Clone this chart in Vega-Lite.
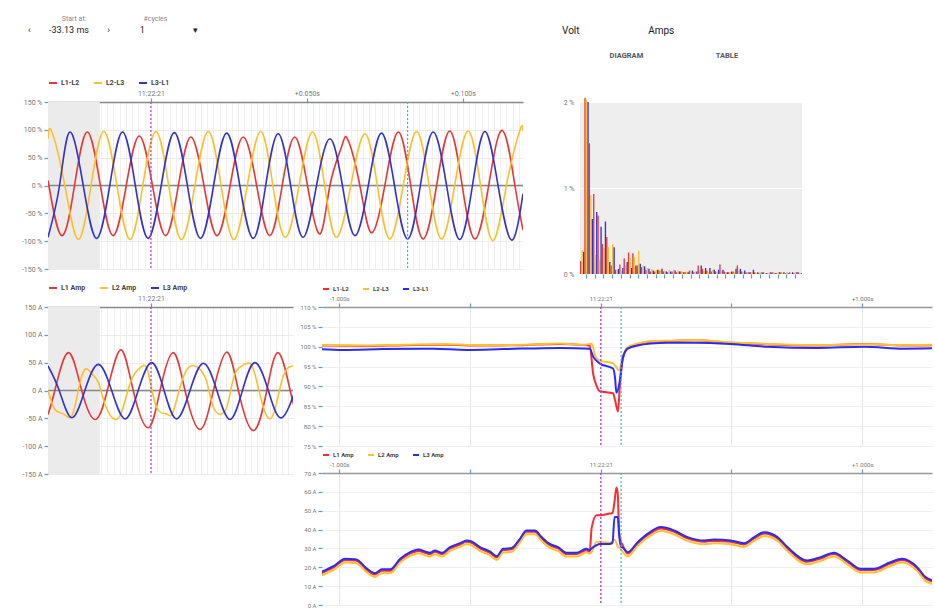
{
  "$schema": "https://vega.github.io/schema/vega-lite/v6.json",
  "background": "white",
  "padding": {"left": 21, "top": 15, "right": 5, "bottom": 5},
  "spacing": 4,
  "resolve": {"scale": {"color": "independent"}},
  "datasets": {
    "vw": [
      {"s":"L1-L2","t":-33,"v":9},{"s":"L1-L2","t":-28.6,"v":-90},{"s":"L1-L2","t":-24.5,"v":0},{"s":"L1-L2","t":-20.4,"v":96},{"s":"L1-L2","t":-16.2,"v":0},{"s":"L1-L2","t":-12.1,"v":-90},{"s":"L1-L2","t":-7.9,"v":0},{"s":"L1-L2","t":-3.75,"v":89},{"s":"L1-L2","t":0.5,"v":0},{"s":"L1-L2","t":4.7,"v":-90},{"s":"L1-L2","t":8.8,"v":0},{"s":"L1-L2","t":12.8,"v":87},{"s":"L1-L2","t":17,"v":0},{"s":"L1-L2","t":21.2,"v":-90},{"s":"L1-L2","t":25.4,"v":0},{"s":"L1-L2","t":29.6,"v":87},{"s":"L1-L2","t":33.9,"v":0},{"s":"L1-L2","t":38.1,"v":-90},{"s":"L1-L2","t":42.1,"v":0},{"s":"L1-L2","t":46.1,"v":87},{"s":"L1-L2","t":50.2,"v":0},{"s":"L1-L2","t":54.2,"v":-87},{"s":"L1-L2","t":57.4,"v":0},{"s":"L1-L2","t":61.1,"v":69},{"s":"L1-L2","t":63.1,"v":83},{"s":"L1-L2","t":67,"v":0},{"s":"L1-L2","t":70.7,"v":-85},{"s":"L1-L2","t":75,"v":0},{"s":"L1-L2","t":79.3,"v":96},{"s":"L1-L2","t":83.3,"v":0},{"s":"L1-L2","t":87.3,"v":-96},{"s":"L1-L2","t":91.6,"v":0},{"s":"L1-L2","t":95.8,"v":98},{"s":"L1-L2","t":99.8,"v":0},{"s":"L1-L2","t":103.9,"v":-96},{"s":"L1-L2","t":108.3,"v":0},{"s":"L1-L2","t":112.7,"v":99},{"s":"L1-L2","t":116.7,"v":0},{"s":"L1-L2","t":119.3,"v":-80},
      {"s":"L2-L3","t":-33,"v":84},{"s":"L2-L3","t":-31.8,"v":97},{"s":"L2-L3","t":-27.6,"v":0},{"s":"L2-L3","t":-23.3,"v":-97},{"s":"L2-L3","t":-19.2,"v":0},{"s":"L2-L3","t":-15.1,"v":97},{"s":"L2-L3","t":-10.9,"v":0},{"s":"L2-L3","t":-6.7,"v":-97},{"s":"L2-L3","t":-2.6,"v":0},{"s":"L2-L3","t":1.6,"v":97},{"s":"L2-L3","t":5.7,"v":0},{"s":"L2-L3","t":9.8,"v":-97},{"s":"L2-L3","t":14.1,"v":0},{"s":"L2-L3","t":18.4,"v":97},{"s":"L2-L3","t":22.5,"v":0},{"s":"L2-L3","t":26.6,"v":-97},{"s":"L2-L3","t":30.9,"v":0},{"s":"L2-L3","t":35.2,"v":97},{"s":"L2-L3","t":39.1,"v":0},{"s":"L2-L3","t":43.1,"v":-93},{"s":"L2-L3","t":47.5,"v":0},{"s":"L2-L3","t":51.8,"v":96},{"s":"L2-L3","t":55.7,"v":0},{"s":"L2-L3","t":59.5,"v":-93},{"s":"L2-L3","t":64.1,"v":0},{"s":"L2-L3","t":68.6,"v":93},{"s":"L2-L3","t":72.6,"v":0},{"s":"L2-L3","t":76.6,"v":-96},{"s":"L2-L3","t":80.9,"v":0},{"s":"L2-L3","t":85.2,"v":97},{"s":"L2-L3","t":89.2,"v":0},{"s":"L2-L3","t":93.2,"v":-96},{"s":"L2-L3","t":97.4,"v":0},{"s":"L2-L3","t":101.7,"v":98},{"s":"L2-L3","t":105.7,"v":0},{"s":"L2-L3","t":109.7,"v":-99},{"s":"L2-L3","t":114,"v":0},{"s":"L2-L3","t":118.3,"v":99},{"s":"L2-L3","t":119.3,"v":98},
      {"s":"L3-L1","t":-33,"v":-93},{"s":"L3-L1","t":-29.3,"v":0},{"s":"L3-L1","t":-26,"v":96},{"s":"L3-L1","t":-21.7,"v":0},{"s":"L3-L1","t":-17.4,"v":-95},{"s":"L3-L1","t":-13.2,"v":0},{"s":"L3-L1","t":-9.1,"v":96},{"s":"L3-L1","t":-5,"v":0},{"s":"L3-L1","t":-0.9,"v":-95},{"s":"L3-L1","t":3.3,"v":0},{"s":"L3-L1","t":7.5,"v":95},{"s":"L3-L1","t":11.7,"v":0},{"s":"L3-L1","t":15.9,"v":-95},{"s":"L3-L1","t":20.1,"v":0},{"s":"L3-L1","t":24.3,"v":94},{"s":"L3-L1","t":28.5,"v":0},{"s":"L3-L1","t":32.8,"v":-95},{"s":"L3-L1","t":36.8,"v":0},{"s":"L3-L1","t":40.8,"v":93},{"s":"L3-L1","t":44.8,"v":0},{"s":"L3-L1","t":48.8,"v":-93},{"s":"L3-L1","t":53.1,"v":0},{"s":"L3-L1","t":57.4,"v":84},{"s":"L3-L1","t":61.4,"v":0},{"s":"L3-L1","t":65.4,"v":-90},{"s":"L3-L1","t":69.7,"v":0},{"s":"L3-L1","t":73.9,"v":94},{"s":"L3-L1","t":78.1,"v":0},{"s":"L3-L1","t":82.3,"v":-96},{"s":"L3-L1","t":86.4,"v":0},{"s":"L3-L1","t":90.5,"v":96},{"s":"L3-L1","t":94.8,"v":0},{"s":"L3-L1","t":99,"v":-97},{"s":"L3-L1","t":103.1,"v":0},{"s":"L3-L1","t":107.1,"v":97},{"s":"L3-L1","t":111.3,"v":0},{"s":"L3-L1","t":115.6,"v":-98},{"s":"L3-L1","t":119.3,"v":-15}
    ],
    "cw": [
      {"s":"L1 Amp","t":-33,"v":-43},{"s":"L1 Amp","t":-30.8,"v":0},{"s":"L1 Amp","t":-26.5,"v":68},{"s":"L1 Amp","t":-22.2,"v":0},{"s":"L1 Amp","t":-17.9,"v":-52},{"s":"L1 Amp","t":-14,"v":0},{"s":"L1 Amp","t":-9.7,"v":73},{"s":"L1 Amp","t":-5.7,"v":0},{"s":"L1 Amp","t":-0.9,"v":-67},{"s":"L1 Amp","t":2.9,"v":0},{"s":"L1 Amp","t":7.1,"v":68},{"s":"L1 Amp","t":10.9,"v":0},{"s":"L1 Amp","t":15.7,"v":-70},{"s":"L1 Amp","t":20,"v":0},{"s":"L1 Amp","t":24.3,"v":69},{"s":"L1 Amp","t":28,"v":0},{"s":"L1 Amp","t":32.8,"v":-72},{"s":"L1 Amp","t":37.1,"v":0},{"s":"L1 Amp","t":40.8,"v":68},{"s":"L1 Amp","t":44.6,"v":0},{"s":"L1 Amp","t":47.1,"v":-55},
      {"s":"L2 Amp","t":-33,"v":0},{"s":"L2 Amp","t":-30.8,"v":-34},{"s":"L2 Amp","t":-28.1,"v":-42},{"s":"L2 Amp","t":-25.4,"v":-46},{"s":"L2 Amp","t":-23.3,"v":0},{"s":"L2 Amp","t":-21.2,"v":38},{"s":"L2 Amp","t":-19,"v":30},{"s":"L2 Amp","t":-16.9,"v":15},{"s":"L2 Amp","t":-14.7,"v":-25},{"s":"L2 Amp","t":-11.5,"v":-52},{"s":"L2 Amp","t":-8.9,"v":-30},{"s":"L2 Amp","t":-6.2,"v":20},{"s":"L2 Amp","t":-3,"v":43},{"s":"L2 Amp","t":-0.9,"v":32},{"s":"L2 Amp","t":1.8,"v":-30},{"s":"L2 Amp","t":5,"v":-42},{"s":"L2 Amp","t":7.1,"v":-38},{"s":"L2 Amp","t":10.4,"v":25},{"s":"L2 Amp","t":13.4,"v":45},{"s":"L2 Amp","t":15.7,"v":38},{"s":"L2 Amp","t":17.9,"v":15},{"s":"L2 Amp","t":20,"v":-30},{"s":"L2 Amp","t":22.7,"v":-42},{"s":"L2 Amp","t":24.8,"v":-20},{"s":"L2 Amp","t":26.9,"v":30},{"s":"L2 Amp","t":30.1,"v":47},{"s":"L2 Amp","t":32.8,"v":38},{"s":"L2 Amp","t":36,"v":-30},{"s":"L2 Amp","t":39.2,"v":-43},{"s":"L2 Amp","t":42.4,"v":26},{"s":"L2 Amp","t":45.6,"v":44},{"s":"L2 Amp","t":47.2,"v":47},
      {"s":"L3 Amp","t":-33,"v":44},{"s":"L3 Amp","t":-29.4,"v":0},{"s":"L3 Amp","t":-25.4,"v":-49},{"s":"L3 Amp","t":-21.2,"v":0},{"s":"L3 Amp","t":-16.9,"v":47},{"s":"L3 Amp","t":-12.6,"v":0},{"s":"L3 Amp","t":-8.3,"v":-51},{"s":"L3 Amp","t":-4.1,"v":0},{"s":"L3 Amp","t":0.2,"v":50},{"s":"L3 Amp","t":4.2,"v":0},{"s":"L3 Amp","t":8.2,"v":-51},{"s":"L3 Amp","t":12.5,"v":0},{"s":"L3 Amp","t":16.8,"v":49},{"s":"L3 Amp","t":21.1,"v":0},{"s":"L3 Amp","t":25.3,"v":-52},{"s":"L3 Amp","t":29.3,"v":0},{"s":"L3 Amp","t":33.3,"v":50},{"s":"L3 Amp","t":37.6,"v":0},{"s":"L3 Amp","t":41.9,"v":-49},{"s":"L3 Amp","t":46.2,"v":0},{"s":"L3 Amp","t":47.2,"v":8}
    ],
    "harm": [
      {"h":1,"L1":0.15,"L2":0.28,"L3":0.26},{"h":2,"L1":2.05,"L2":2.03,"L3":2.0},{"h":3,"L1":1.52,"L2":0.92,"L3":0.64},{"h":4,"L1":0.93,"L2":0.22,"L3":0.72},{"h":5,"L1":0.68,"L2":0.16,"L3":0.55},{"h":6,"L1":0.35,"L2":0.3,"L3":0.61},{"h":7,"L1":0.43,"L2":0.31,"L3":0.14},{"h":8,"L1":0.1,"L2":0.35,"L3":0.31},{"h":9,"L1":0.05,"L2":0.05,"L3":0.06},{"h":10,"L1":0.11,"L2":0.04,"L3":0.07},
      {"h":11,"L1":0.18,"L2":0.1,"L3":0.14},{"h":12,"L1":0.25,"L2":0.19,"L3":0.07},{"h":13,"L1":0.24,"L2":0.2,"L3":0.1},{"h":14,"L1":0.1,"L2":0.27,"L3":0.12},{"h":15,"L1":0.08,"L2":0.1,"L3":0.09},{"h":16,"L1":0.05,"L2":0.07,"L3":0.06},{"h":17,"L1":0.03,"L2":0.06,"L3":0.04},{"h":18,"L1":0.03,"L2":0.05,"L3":0.05},{"h":19,"L1":0.04,"L2":0.05,"L3":0.06},{"h":20,"L1":0.03,"L2":0.04,"L3":0.03},
      {"h":21,"L1":0.02,"L2":0.05,"L3":0.03},{"h":22,"L1":0.03,"L2":0.05,"L3":0.04},{"h":23,"L1":0.02,"L2":0.04,"L3":0.03},{"h":24,"L1":0.03,"L2":0.03,"L3":0.02},{"h":25,"L1":0.02,"L2":0.03,"L3":0.02},{"h":26,"L1":0.04,"L2":0.03,"L3":0.04},{"h":27,"L1":0.02,"L2":0.03,"L3":0.03},{"h":28,"L1":0.1,"L2":0.05,"L3":0.1},{"h":29,"L1":0.06,"L2":0.03,"L3":0.07},{"h":30,"L1":0.04,"L2":0.02,"L3":0.07},
      {"h":31,"L1":0.03,"L2":0.05,"L3":0.05},{"h":32,"L1":0.03,"L2":0.02,"L3":0.05},{"h":33,"L1":0.11,"L2":0.03,"L3":0.05},{"h":34,"L1":0.03,"L2":0.02,"L3":0.02},{"h":35,"L1":0.02,"L2":0.02,"L3":0.03},{"h":36,"L1":0.03,"L2":0.02,"L3":0.06},{"h":37,"L1":0.1,"L2":0.04,"L3":0.06},{"h":38,"L1":0.03,"L2":0.02,"L3":0.04},{"h":39,"L1":0.02,"L2":0.02,"L3":0.02},{"h":40,"L1":0.02,"L2":0.02,"L3":0.05},
      {"h":41,"L1":0.02,"L2":0.01,"L3":0.02},{"h":42,"L1":0.01,"L2":0.02,"L3":0.02},{"h":43,"L1":0.02,"L2":0.01,"L3":0.01},{"h":44,"L1":0.01,"L2":0.02,"L3":0.02},{"h":45,"L1":0.02,"L2":0.02,"L3":0.01},{"h":46,"L1":0.01,"L2":0.02,"L3":0.02},{"h":47,"L1":0.02,"L2":0.01,"L3":0.02},{"h":48,"L1":0.01,"L2":0.02,"L3":0.01},{"h":49,"L1":0.02,"L2":0.01,"L3":0.02},{"h":50,"L1":0.01,"L2":0.02,"L3":0.02},{"h":51,"L1":0.02,"L2":0.01,"L3":0.01}
    ],
    "rv": [
      {"s":"L1-L2","t":-1.07,"v":100.3},{"s":"L1-L2","t":-0.9,"v":100.2},{"s":"L1-L2","t":-0.75,"v":100.4},{"s":"L1-L2","t":-0.6,"v":100.5},{"s":"L1-L2","t":-0.45,"v":100.3},{"s":"L1-L2","t":-0.3,"v":100.4},{"s":"L1-L2","t":-0.156,"v":100.7},{"s":"L1-L2","t":-0.06,"v":100.4},{"s":"L1-L2","t":-0.042,"v":100.3},{"s":"L1-L2","t":-0.029,"v":93.2},{"s":"L1-L2","t":-0.015,"v":90},{"s":"L1-L2","t":-0.004,"v":88.8},{"s":"L1-L2","t":0.047,"v":88.3},{"s":"L1-L2","t":0.055,"v":86.5},{"s":"L1-L2","t":0.066,"v":83.7},{"s":"L1-L2","t":0.073,"v":90},{"s":"L1-L2","t":0.084,"v":96.7},{"s":"L1-L2","t":0.103,"v":99.7},{"s":"L1-L2","t":0.141,"v":100.6},{"s":"L1-L2","t":0.191,"v":101.3},{"s":"L1-L2","t":0.256,"v":101.4},{"s":"L1-L2","t":0.359,"v":101.6},{"s":"L1-L2","t":0.496,"v":101.0},{"s":"L1-L2","t":0.637,"v":100.6},{"s":"L1-L2","t":0.828,"v":100.3},{"s":"L1-L2","t":1.008,"v":100.7},{"s":"L1-L2","t":1.16,"v":100.3},{"s":"L1-L2","t":1.27,"v":100.4},
      {"s":"L2-L3","t":-1.07,"v":100.4},{"s":"L2-L3","t":-0.9,"v":100.3},{"s":"L2-L3","t":-0.75,"v":100.5},{"s":"L2-L3","t":-0.6,"v":100.6},{"s":"L2-L3","t":-0.45,"v":100.4},{"s":"L2-L3","t":-0.3,"v":100.5},{"s":"L2-L3","t":-0.156,"v":100.8},{"s":"L2-L3","t":-0.06,"v":100.5},{"s":"L2-L3","t":-0.035,"v":100.8},{"s":"L2-L3","t":-0.02,"v":97.5},{"s":"L2-L3","t":-0.004,"v":96.5},{"s":"L2-L3","t":0.047,"v":95.8},{"s":"L2-L3","t":0.06,"v":94.8},{"s":"L2-L3","t":0.07,"v":94.0},{"s":"L2-L3","t":0.084,"v":97.5},{"s":"L2-L3","t":0.103,"v":99.9},{"s":"L2-L3","t":0.141,"v":100.8},{"s":"L2-L3","t":0.191,"v":101.4},{"s":"L2-L3","t":0.256,"v":101.5},{"s":"L2-L3","t":0.359,"v":101.7},{"s":"L2-L3","t":0.496,"v":101.1},{"s":"L2-L3","t":0.637,"v":100.7},{"s":"L2-L3","t":0.828,"v":100.4},{"s":"L2-L3","t":1.008,"v":100.6},{"s":"L2-L3","t":1.16,"v":100.4},{"s":"L2-L3","t":1.27,"v":100.5},
      {"s":"L3-L1","t":-1.07,"v":99.4},{"s":"L3-L1","t":-0.985,"v":99.2},{"s":"L3-L1","t":-0.832,"v":99.4},{"s":"L3-L1","t":-0.641,"v":99.5},{"s":"L3-L1","t":-0.513,"v":99.2},{"s":"L3-L1","t":-0.374,"v":99.4},{"s":"L3-L1","t":-0.156,"v":99.7},{"s":"L3-L1","t":-0.042,"v":99.5},{"s":"L3-L1","t":-0.029,"v":97.5},{"s":"L3-L1","t":-0.004,"v":95.8},{"s":"L3-L1","t":0.047,"v":94.5},{"s":"L3-L1","t":0.055,"v":92},{"s":"L3-L1","t":0.06,"v":88.4},{"s":"L3-L1","t":0.073,"v":91.4},{"s":"L3-L1","t":0.084,"v":97.1},{"s":"L3-L1","t":0.103,"v":99.5},{"s":"L3-L1","t":0.141,"v":100.3},{"s":"L3-L1","t":0.191,"v":100.8},{"s":"L3-L1","t":0.256,"v":101.0},{"s":"L3-L1","t":0.359,"v":101.0},{"s":"L3-L1","t":0.496,"v":100.7},{"s":"L3-L1","t":0.637,"v":100.0},{"s":"L3-L1","t":0.828,"v":99.7},{"s":"L3-L1","t":1.008,"v":100.0},{"s":"L3-L1","t":1.16,"v":99.5},{"s":"L3-L1","t":1.27,"v":99.6}
    ],
    "ri": [
      {"t":-1.07,"L1 Amp":16.8,"L2 Amp":15.5,"L3 Amp":17.5},{"t":-1.022,"L1 Amp":19.9,"L2 Amp":18.6,"L3 Amp":20.6},{"t":-0.977,"L1 Amp":23.8,"L2 Amp":22.5,"L3 Amp":24.5},{"t":-0.939,"L1 Amp":23.6,"L2 Amp":22.3,"L3 Amp":24.3},{"t":-0.926,"L1 Amp":22.9,"L2 Amp":21.6,"L3 Amp":23.6},{"t":-0.901,"L1 Amp":19.4,"L2 Amp":18.1,"L3 Amp":20.1},{"t":-0.863,"L1 Amp":16.2,"L2 Amp":14.9,"L3 Amp":16.9},{"t":-0.837,"L1 Amp":18.2,"L2 Amp":16.9,"L3 Amp":18.9},{"t":-0.805,"L1 Amp":18.2,"L2 Amp":16.9,"L3 Amp":18.9},{"t":-0.767,"L1 Amp":23.8,"L2 Amp":22.5,"L3 Amp":24.5},
      {"t":-0.729,"L1 Amp":27.3,"L2 Amp":26.0,"L3 Amp":28.0},{"t":-0.697,"L1 Amp":28.7,"L2 Amp":27.4,"L3 Amp":29.4},{"t":-0.672,"L1 Amp":27.7,"L2 Amp":26.4,"L3 Amp":28.4},{"t":-0.653,"L1 Amp":27.0,"L2 Amp":25.7,"L3 Amp":27.7},{"t":-0.634,"L1 Amp":28.2,"L2 Amp":26.9,"L3 Amp":28.9},{"t":-0.608,"L1 Amp":27.0,"L2 Amp":25.7,"L3 Amp":27.7},{"t":-0.576,"L1 Amp":30.0,"L2 Amp":28.7,"L3 Amp":30.7},{"t":-0.538,"L1 Amp":32.1,"L2 Amp":30.8,"L3 Amp":32.8},{"t":-0.513,"L1 Amp":33.5,"L2 Amp":32.2,"L3 Amp":34.2},{"t":-0.494,"L1 Amp":33.0,"L2 Amp":31.7,"L3 Amp":33.7},
      {"t":-0.462,"L1 Amp":30.0,"L2 Amp":28.7,"L3 Amp":30.7},{"t":-0.424,"L1 Amp":27.7,"L2 Amp":26.4,"L3 Amp":28.4},{"t":-0.398,"L1 Amp":25.2,"L2 Amp":23.9,"L3 Amp":25.9},{"t":-0.373,"L1 Amp":29.1,"L2 Amp":27.8,"L3 Amp":29.8},{"t":-0.341,"L1 Amp":29.5,"L2 Amp":28.2,"L3 Amp":30.2},{"t":-0.309,"L1 Amp":34.4,"L2 Amp":33.1,"L3 Amp":35.1},{"t":-0.284,"L1 Amp":38.8,"L2 Amp":37.5,"L3 Amp":39.5},{"t":-0.252,"L1 Amp":38.8,"L2 Amp":37.5,"L3 Amp":39.5},{"t":-0.226,"L1 Amp":35.3,"L2 Amp":34.0,"L3 Amp":36.0},{"t":-0.195,"L1 Amp":31.7,"L2 Amp":30.4,"L3 Amp":32.4},
      {"t":-0.163,"L1 Amp":30.0,"L2 Amp":28.7,"L3 Amp":30.7},{"t":-0.131,"L1 Amp":27.0,"L2 Amp":25.7,"L3 Amp":27.7},{"t":-0.093,"L1 Amp":27.0,"L2 Amp":25.7,"L3 Amp":27.7},{"t":-0.055,"L1 Amp":29.1,"L2 Amp":27.8,"L3 Amp":29.8},{"t":-0.042,"L1 Amp":28.2,"L2 Amp":27.2,"L3 Amp":29.1},{"t":-0.035,"L1 Amp":40.6,"L2 Amp":28.0,"L3 Amp":30.0},{"t":-0.016,"L1 Amp":47.6,"L2 Amp":33.5,"L3 Amp":31.7},{"t":-0.004,"L1 Amp":47.6,"L2 Amp":33.5,"L3 Amp":32.3},{"t":0.034,"L1 Amp":48.5,"L2 Amp":33.0,"L3 Amp":32.3},{"t":0.045,"L1 Amp":48.8,"L2 Amp":33.8,"L3 Amp":33.0},
      {"t":0.053,"L1 Amp":55.0,"L2 Amp":34.7,"L3 Amp":46.7},{"t":0.06,"L1 Amp":62.3,"L2 Amp":33.0,"L3 Amp":46.7},{"t":0.065,"L1 Amp":59.0,"L2 Amp":30.9,"L3 Amp":46.7},{"t":0.071,"L1 Amp":37.9,"L2 Amp":30.5,"L3 Amp":36.2},{"t":0.078,"L1 Amp":33.5,"L2 Amp":29.3,"L3 Amp":31.0},{"t":0.084,"L1 Amp":31.7,"L2 Amp":28.2,"L3 Amp":30.5},{"t":0.103,"L1 Amp":27.3,"L2 Amp":25.9,"L3 Amp":28.0},{"t":0.141,"L1 Amp":32.6,"L2 Amp":31.3,"L3 Amp":33.3},{"t":0.179,"L1 Amp":37.0,"L2 Amp":35.7,"L3 Amp":37.7},{"t":0.23,"L1 Amp":40.6,"L2 Amp":39.3,"L3 Amp":41.3},
      {"t":0.281,"L1 Amp":38.8,"L2 Amp":37.5,"L3 Amp":39.5},{"t":0.332,"L1 Amp":35.3,"L2 Amp":34.0,"L3 Amp":36.0},{"t":0.396,"L1 Amp":33.5,"L2 Amp":32.2,"L3 Amp":34.2},{"t":0.434,"L1 Amp":34.0,"L2 Amp":32.7,"L3 Amp":34.7},{"t":0.497,"L1 Amp":33.5,"L2 Amp":32.2,"L3 Amp":34.2},{"t":0.548,"L1 Amp":32.1,"L2 Amp":30.8,"L3 Amp":32.8},{"t":0.587,"L1 Amp":35.3,"L2 Amp":34.0,"L3 Amp":36.0},{"t":0.625,"L1 Amp":37.9,"L2 Amp":36.6,"L3 Amp":38.6},{"t":0.676,"L1 Amp":35.3,"L2 Amp":34.0,"L3 Amp":36.0},{"t":0.714,"L1 Amp":30.0,"L2 Amp":28.7,"L3 Amp":30.7},
      {"t":0.79,"L1 Amp":22.9,"L2 Amp":21.6,"L3 Amp":23.6},{"t":0.841,"L1 Amp":24.7,"L2 Amp":23.4,"L3 Amp":25.4},{"t":0.892,"L1 Amp":27.0,"L2 Amp":25.7,"L3 Amp":27.7},{"t":0.943,"L1 Amp":22.9,"L2 Amp":21.6,"L3 Amp":23.6},{"t":0.994,"L1 Amp":18.5,"L2 Amp":17.2,"L3 Amp":19.2},{"t":1.045,"L1 Amp":18.5,"L2 Amp":17.2,"L3 Amp":19.2},{"t":1.108,"L1 Amp":22.0,"L2 Amp":20.7,"L3 Amp":22.7},{"t":1.153,"L1 Amp":23.8,"L2 Amp":22.5,"L3 Amp":24.5},{"t":1.21,"L1 Amp":19.4,"L2 Amp":18.1,"L3 Amp":20.1},{"t":1.242,"L1 Amp":14.1,"L2 Amp":12.8,"L3 Amp":14.8},{"t":1.27,"L1 Amp":12.3,"L2 Amp":11.0,"L3 Amp":13.0}
    ]
  },
  "vconcat": [
    {
      "bounds": "flush",
      "spacing": 57,
      "resolve": {"scale": {"color": "independent"}},
      "hconcat": [
        {
          "width": 475, "height": 167,
          "title": {"text": "\u200b\u2003\u2003\u2003\u2003\u00a0\u00a0\u00a0Start at:\u2003\u2003\u2003\u2003\u2003\u2003\u2003\u2003#cycles", "subtitle": "\u2039\u2003\u2003-33.13 ms\u2003\u2003\u203a\u2003\u2003\u2003\u00a01\u2003\u2003\u2003\u2003\u2003\u00a0\u25be", "anchor": "start", "frame": "group", "dx": -20, "fontSize": 7, "fontWeight": "normal", "color": "#888", "subtitleFontSize": 9, "subtitleColor": "#222", "subtitlePadding": 4, "offset": 43},
          "encoding": {
            "y": {"type": "quantitative", "scale": {"domain": [-150, 150], "nice": false}, "axis": {"values": [-150, -100, -50, 0, 50, 100, 150], "labelExpr": "datum.value + ' %'", "labelOverlap": false, "grid": true, "title": null}}
          },
          "layer": [
            {"data": {"values": [{"start": -33, "end": -16.4}]},
             "mark": {"type": "rect", "color": "#ebebeb"},
             "encoding": {
               "x": {"field": "start", "type": "quantitative", "scale": {"domain": [-33, 119.3], "nice": false}, "axis": {"orient": "bottom", "grid": true, "gridColor": "#f0f0f0", "labels": false, "ticks": false, "domain": false, "tickCount": 80, "title": null}},
               "x2": {"field": "end"},
               "y": {"datum": -150, "type": "quantitative"},
               "y2": {"datum": 150}
             }},
            {"data": {"values": [{}]}, "mark": {"type": "rule", "color": "#888", "strokeWidth": 1.5}, "encoding": {"y": {"datum": 0, "type": "quantitative"}}},
            {"data": {"name": "vw"},
             "mark": {"type": "line", "interpolate": "natural", "strokeWidth": 1.6, "clip": true},
             "encoding": {
               "x": {"field": "t", "type": "quantitative", "scale": {"domain": [-33, 119.3], "nice": false}, "axis": {"orient": "top", "values": [0, 50, 100], "labelExpr": "datum.value === 0 ? '11:22:21' : '+' + format(datum.value / 1000, '.3f') + 's'", "grid": false, "domain": true, "domainColor": "#888", "domainWidth": 1.5, "title": null}},
               "y": {"field": "v", "type": "quantitative"},
               "color": {"field": "s", "type": "nominal", "scale": {"domain": ["L1-L2", "L2-L3", "L3-L1"], "range": ["#e53935", "#fbc02d", "#3333cc"]}, "legend": {"title": null}}
             }},
            {"data": {"values": [{}]}, "mark": {"type": "rule", "color": "#b03cc8", "strokeDash": [2, 2], "strokeWidth": 1.2}, "encoding": {"x": {"datum": 0, "type": "quantitative", "axis": null}}},
            {"data": {"values": [{}]}, "mark": {"type": "rule", "color": "#3cb8c8", "strokeDash": [2, 2], "strokeWidth": 1.2}, "encoding": {"x": {"datum": 82.3, "type": "quantitative", "axis": null}}}
          ],
          "resolve": {"axis": {"x": "independent"}}
        },
        {
          "width": 222, "height": 172,
          "view": {"fill": "#eeeeee", "stroke": null},
          "title": {"text": "Volt\u2003\u2003\u2003\u2003\u2003\u2003\u00a0\u00a0\u00a0Amps", "subtitle": "\u200b\u2003\u2003\u2003\u2003\u2003\u00a0\u00a0\u00a0\u00a0\u00a0DIAGRAM\u2003\u2003\u2003\u2003\u2003\u2003\u2003\u2003\u2003\u00a0\u00a0TABLE", "anchor": "start", "frame": "group", "dx": -18, "fontSize": 10, "fontWeight": "normal", "color": "#222", "subtitleFontSize": 7.5, "subtitleFontWeight": "bold", "subtitleColor": "#555", "subtitlePadding": 16, "offset": 38},
          "data": {"name": "harm"},
          "transform": [{"fold": ["L1", "L2", "L3"], "as": ["p", "v"]}],
          "mark": {"type": "bar"},
          "encoding": {
            "x": {"field": "h", "type": "ordinal", "scale": {"paddingInner": 0, "paddingOuter": 0}, "axis": {"values": [2,4,6,8,10,12,14,16,18,20,22,24,26,28,30,32,34,36,38,40,42,44,46,48,50], "labels": false, "grid": false, "domain": false, "title": null}},
            "xOffset": {"field": "p", "type": "nominal", "scale": {"paddingInner": 0.1}},
            "y": {"field": "v", "type": "quantitative", "scale": {"domain": [0, 2], "nice": false}, "axis": {"values": [0, 1, 2], "labelExpr": "datum.value + ' %'", "labelOverlap": false, "ticks": false, "grid": true, "gridColor": "#ffffff", "labelPadding": 6, "title": null}},
            "color": {"field": "p", "type": "nominal", "scale": {"domain": ["L1", "L2", "L3"], "range": ["#e53935", "#fbc02d", "#3333cc"]}, "legend": null}
          }
        }
      ]
    },
    {
      "spacing": 6,
      "resolve": {"scale": {"color": "independent"}},
      "hconcat": [
        {
          "width": 245, "height": 167,
          "encoding": {
            "y": {"type": "quantitative", "scale": {"domain": [-150, 150], "nice": false}, "axis": {"values": [-150, -100, -50, 0, 50, 100, 150], "labelExpr": "datum.value + ' A'", "labelOverlap": false, "grid": true, "title": null}}
          },
          "layer": [
            {"data": {"values": [{"start": -33, "end": -16.4}]},
             "mark": {"type": "rect", "color": "#ebebeb"},
             "encoding": {
               "x": {"field": "start", "type": "quantitative", "scale": {"domain": [-33, 45.5], "nice": false}, "axis": {"orient": "bottom", "grid": true, "gridColor": "#f0f0f0", "labels": false, "ticks": false, "domain": false, "tickCount": 40, "title": null}},
               "x2": {"field": "end"},
               "y": {"datum": -150, "type": "quantitative"},
               "y2": {"datum": 150}
             }},
            {"data": {"values": [{}]}, "mark": {"type": "rule", "color": "#888", "strokeWidth": 1.5}, "encoding": {"y": {"datum": 0, "type": "quantitative"}}},
            {"data": {"name": "cw"},
             "mark": {"type": "line", "interpolate": "natural", "strokeWidth": 1.6, "clip": true},
             "encoding": {
               "x": {"field": "t", "type": "quantitative", "scale": {"domain": [-33, 45.5], "nice": false}, "axis": {"orient": "top", "values": [0], "labelExpr": "'11:22:21'", "grid": false, "domain": true, "domainColor": "#888", "domainWidth": 1.5, "title": null}},
               "y": {"field": "v", "type": "quantitative"},
               "color": {"field": "s", "type": "nominal", "scale": {"domain": ["L1 Amp", "L2 Amp", "L3 Amp"], "range": ["#e53935", "#fbc02d", "#3333cc"]}, "legend": {"title": null}}
             }},
            {"data": {"values": [{}]}, "mark": {"type": "rule", "color": "#b03cc8", "strokeDash": [2, 2], "strokeWidth": 1.2}, "encoding": {"x": {"datum": 0, "type": "quantitative", "axis": null}}}
          ],
          "resolve": {"axis": {"x": "independent"}}
        },
        {
          "bounds": "flush",
          "spacing": 27,
          "resolve": {"scale": {"color": "independent"}},
          "vconcat": [
            {
              "width": 610, "height": 139,
              "layer": [
                {"data": {"name": "rv"},
                 "mark": {"type": "line", "interpolate": "monotone", "strokeWidth": 2, "clip": true},
                 "encoding": {
                   "x": {"field": "t", "type": "quantitative", "scale": {"domain": [-1.066, 1.267], "nice": false}, "axis": {"orient": "top", "values": [-1, -0.5, 0, 0.5, 1], "labelExpr": "datum.value === 0 ? '11:22:21' : datum.value === 1 ? '+1.000s' : datum.value === -1 ? '-1.000s' : ''", "grid": true, "gridColor": "#e6e6e6", "domain": true, "domainColor": "#999", "domainWidth": 1.5, "labelFontSize": 6, "title": null}},
                   "y": {"field": "v", "type": "quantitative", "scale": {"domain": [75, 110], "nice": false}, "axis": {"values": [75, 80, 85, 90, 95, 100, 105, 110], "labelExpr": "datum.value + ' %'", "labelOverlap": false, "grid": true, "gridColor": "#efefef", "labelFontSize": 6, "title": null}},
                   "color": {"field": "s", "type": "nominal", "scale": {"domain": ["L1-L2", "L2-L3", "L3-L1"], "range": ["#ff2a2a", "#ffc12e", "#2a2aff"]}, "legend": {"title": null, "labelFontSize": 6, "symbolSize": 36}}
                 }},
                {"data": {"values": [{}]}, "mark": {"type": "rule", "color": "#b03cc8", "strokeDash": [2, 2], "strokeWidth": 1.2}, "encoding": {"x": {"datum": 0, "type": "quantitative"}}},
                {"data": {"values": [{}]}, "mark": {"type": "rule", "color": "#3cb8c8", "strokeDash": [2, 2], "strokeWidth": 1.2}, "encoding": {"x": {"datum": 0.078, "type": "quantitative"}}}
              ]
            },
            {
              "width": 610, "height": 132,
              "layer": [
                {"data": {"name": "ri"},
                 "transform": [{"fold": ["L1 Amp", "L2 Amp", "L3 Amp"], "as": ["s", "v"]}],
                 "mark": {"type": "line", "interpolate": "monotone", "strokeWidth": 2, "clip": true},
                 "encoding": {
                   "x": {"field": "t", "type": "quantitative", "scale": {"domain": [-1.066, 1.267], "nice": false}, "axis": {"orient": "top", "values": [-1, -0.5, 0, 0.5, 1], "labelExpr": "datum.value === 0 ? '11:22:21' : datum.value === 1 ? '+1.000s' : datum.value === -1 ? '-1.000s' : ''", "grid": true, "gridColor": "#e6e6e6", "domain": true, "domainColor": "#999", "domainWidth": 1.5, "labelFontSize": 6, "title": null}},
                   "y": {"field": "v", "type": "quantitative", "scale": {"domain": [0, 70], "nice": false}, "axis": {"values": [0, 10, 20, 30, 40, 50, 60, 70], "labelExpr": "datum.value + ' A'", "labelOverlap": false, "grid": true, "gridColor": "#efefef", "labelFontSize": 6, "title": null}},
                   "color": {"field": "s", "type": "nominal", "scale": {"domain": ["L1 Amp", "L2 Amp", "L3 Amp"], "range": ["#ff2a2a", "#ffc12e", "#2a2aff"]}, "legend": {"title": null, "labelFontSize": 6, "symbolSize": 36}}
                 }},
                {"data": {"values": [{}]}, "mark": {"type": "rule", "color": "#b03cc8", "strokeDash": [2, 2], "strokeWidth": 1.2}, "encoding": {"x": {"datum": 0, "type": "quantitative"}}},
                {"data": {"values": [{}]}, "mark": {"type": "rule", "color": "#3cb8c8", "strokeDash": [2, 2], "strokeWidth": 1.2}, "encoding": {"x": {"datum": 0.078, "type": "quantitative"}}}
              ]
            }
          ]
        }
      ]
    }
  ],
  "config": {
    "font": "Roboto",
    "view": {"stroke": null},
    "axis": {"labelFontSize": 7, "labelColor": "#777", "labelOverlap": false, "tickColor": "#5b9bd5", "tickSize": 4, "tickWidth": 1.2, "labelPadding": 2, "domain": false, "gridColor": "#ececec", "gridWidth": 1},
    "legend": {"orient": "top", "direction": "horizontal", "symbolType": "stroke", "symbolStrokeWidth": 2, "symbolSize": 64, "labelFontSize": 7, "labelFontWeight": "bold", "labelColor": "#444", "columnPadding": 10, "offset": 2, "labelOffset": 3}
  }
}
